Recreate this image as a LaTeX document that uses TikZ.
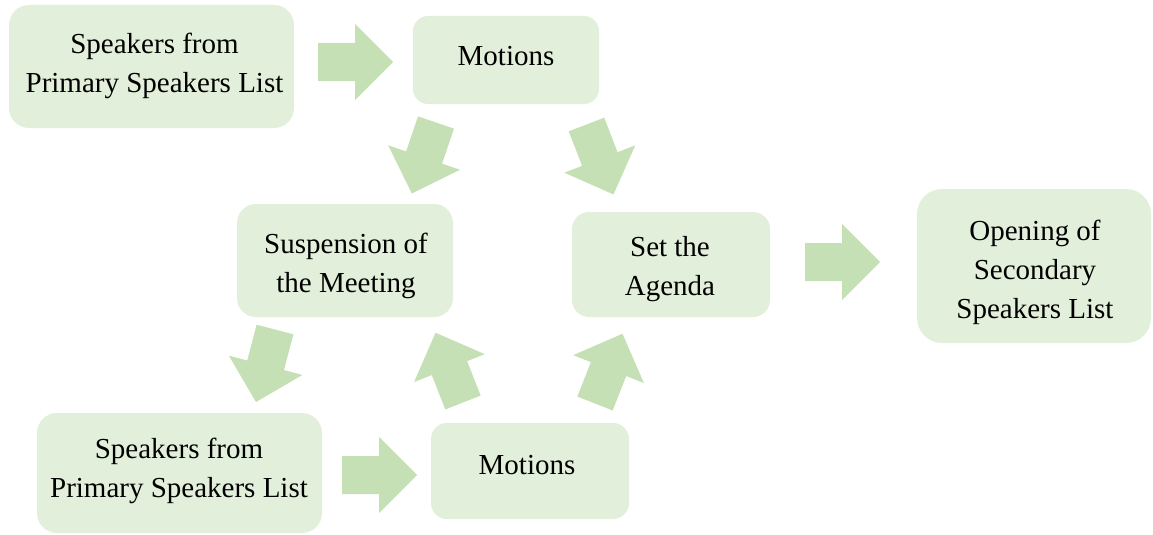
\documentclass[tikz,border=0pt]{standalone}
\usepackage{fontspec}
\setmainfont{Liberation Serif}
\definecolor{boxfill}{HTML}{E2EFDA}
\definecolor{arrfill}{HTML}{C5E0B4}
\tikzset{
  box/.style={draw=none, fill=boxfill, inner sep=0pt, outer sep=0pt},
  lbl/.style={inner sep=0pt, align=center, text=black, font=\rmfamily\fontsize{29}{39}\selectfont},
  blk/.pic={\fill[arrfill] (0,-19) -- (37,-19) -- (37,-38) -- (75,0) -- (37,38) -- (37,19) -- (0,19) -- cycle;}
}
\begin{document}
\begin{tikzpicture}[x=1pt, y=-1pt]
\useasboundingbox (0,0) rectangle (1153,535);
% boxes
\node[box, minimum width=285pt, minimum height=123pt, rounded corners=20pt] (b1) at (151.5,66.5) {};
\node[box, minimum width=186pt, minimum height=88pt, rounded corners=15pt] (b2) at (506,60) {};
\node[box, minimum width=216pt, minimum height=113pt, rounded corners=19pt] (b3) at (345,260.5) {};
\node[box, minimum width=198pt, minimum height=105pt, rounded corners=17pt] (b4) at (671,264.5) {};
\node[box, minimum width=234pt, minimum height=154pt, rounded corners=25pt] (b5) at (1034,266) {};
\node[box, minimum width=285pt, minimum height=120pt, rounded corners=20pt] (b6) at (179.5,473) {};
\node[box, minimum width=198pt, minimum height=96pt, rounded corners=16pt] (b7) at (530,471) {};
% labels
\node[lbl] (t1) at (154.5,66) {Speakers from\\Primary Speakers List};
\node[lbl] (t2) at (506,56) {Motions};
\node[lbl] (t3) at (346,265.5) {Suspension of\\the Meeting};
\node[lbl] (t4) at (670,269) {Set the\\Agenda};
\node[lbl] (t5) at (1035,272) {Opening of\\Secondary\\Speakers List};
\node[lbl] (t6) at (179,471) {Speakers from\\Primary Speakers List};
\node[lbl] (t7) at (527,465) {Motions};
% block arrows
\coordinate (aA) at (318,62);
\coordinate (aB) at (436,122.5);
\coordinate (aC) at (586.5,124.5);
\coordinate (aD) at (275,329.5);
\coordinate (aE) at (805,262);
\coordinate (aF) at (463,402.5);
\coordinate (aG) at (595,403.5);
\coordinate (aH) at (342,475);
\pic at (aA) {blk};
\pic[rotate=-108.8] at (aB) {blk};
\pic[rotate=-68.9] at (aC) {blk};
\pic[rotate=-104.7] at (aD) {blk};
\pic at (aE) {blk};
\pic[rotate=111.5] at (aF) {blk};
\pic[rotate=68.5] at (aG) {blk};
\pic at (aH) {blk};
\end{tikzpicture}
\end{document}
